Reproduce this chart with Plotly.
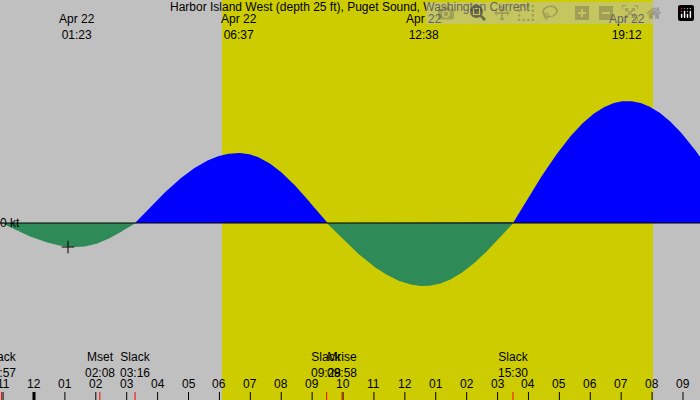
import numpy as np
import plotly.graph_objects as go

# events: hours after midnight Apr 22, current in knots (0 = slack)
event_hours = [-1.05, 1.38, 3.27, 6.62, 9.47, 12.63, 15.5, 19.2, 22.9]
event_values = [0.0, -0.24, 0.0, 0.70, 0.0, -0.63, 0.0, 1.22, 0.0]
hour_labels = ["11", "12", "01", "02", "03", "04", "05", "06", "07", "08", "09", "10", "11",
               "12", "01", "02", "03", "04", "05", "06", "07", "08", "09"]
hour_ticks = list(range(-1, 22))
top_labels = [(1.38, "Apr 22<br>01:23"), (6.62, "Apr 22<br>06:37"), (12.63, "Apr 22<br>12:38"), (19.2, "Apr 22<br>19:12")]
bottom_labels = [(-1.05, "Slack<br>22:57"), (2.13, "Mset<br>02:08"), (3.27, "Slack<br>03:16"),
                 (9.47, "Slack<br>09:28"), (9.97, "Mrise<br>09:58"), (15.5, "Slack<br>15:30")]
red_ticks = [-1.05, 2.13, 3.27, 9.47, 9.97, 15.5]
day_start, day_end = 6.08, 20.03
XMIN, XMAX = -1.1, 21.55
YMIN, YMAX = -1.77, 2.23

# quarter-sine shape between tabulated slack/max events
t = np.linspace(XMIN, XMAX, 800)
v = np.zeros_like(t)
for i in range(len(event_hours) - 1):
    a, b = event_hours[i], event_hours[i + 1]
    va, vb = event_values[i], event_values[i + 1]
    m = (t >= a) & (t <= b)
    f = (t[m] - a) / (b - a)
    if va == 0:
        v[m] = vb * np.sin(np.pi / 2 * f)
    else:
        v[m] = va * np.cos(np.pi / 2 * f)

fig = go.Figure()
fig.add_trace(go.Scatter(x=t, y=np.maximum(v, 0), fill="tozeroy", fillcolor="#0000ff",
                         line=dict(width=0, color="#0000ff"), mode="lines", hoverinfo="skip"))
fig.add_trace(go.Scatter(x=t, y=np.minimum(v, 0), fill="tozeroy", fillcolor="#2e8b57",
                         line=dict(width=0, color="#2e8b57"), mode="lines", hoverinfo="skip"))
fig.add_trace(go.Scatter(x=[1.1], y=[-0.24], mode="markers",
                         marker=dict(symbol="cross-thin", size=9, line=dict(width=1, color="black"))))

shapes = [dict(type="rect", xref="x", yref="paper", x0=day_start, x1=day_end, y0=0, y1=1,
               fillcolor="#cccc00", line=dict(width=0), layer="below"),
          dict(type="line", xref="paper", yref="y", x0=0, x1=1, y0=0, y1=0,
               line=dict(color="black", width=1))]
for h in hour_ticks:
    shapes.append(dict(type="line", xref="x", yref="paper", x0=h, x1=h, y0=0, y1=0.02,
                       line=dict(color="black", width=3 if h == 0 else 1)))
for h in red_ticks:
    shapes.append(dict(type="line", xref="x", yref="paper", x0=h, x1=h, y0=0, y1=0.02,
                       line=dict(color="red", width=1)))

ann = [dict(x=0.5, y=1.005, xref="paper", yref="paper",
            text="Harbor Island West (depth 25 ft), Puget Sound, Washington Current",
            showarrow=False, yanchor="top")]
for h, s in top_labels:
    ann.append(dict(x=h, y=0.975, xref="x", yref="paper", text=s, showarrow=False, yanchor="top"))
for h, s in bottom_labels:
    ann.append(dict(x=h, y=0.045, xref="x", yref="paper", text=s, showarrow=False, yanchor="bottom"))
for h, s in zip(hour_ticks, hour_labels):
    ann.append(dict(x=h, y=0.018, xref="x", yref="paper", text=s, showarrow=False, yanchor="bottom"))
ann.append(dict(x=0, y=0, xref="paper", yref="y", text="0 kt", showarrow=False, xanchor="left", xshift=-2))

fig.update_layout(width=700, height=400, margin=dict(l=0, r=0, t=0, b=0),
                  paper_bgcolor="#c0c0c0", plot_bgcolor="#c0c0c0", showlegend=False,
                  font=dict(family="Liberation Sans", size=12, color="black"),
                  xaxis=dict(range=[XMIN, XMAX], visible=False),
                  yaxis=dict(range=[YMIN, YMAX], visible=False),
                  shapes=shapes, annotations=ann)
fig.write_html("out.html", post_script="document.body.style.margin='0';")
